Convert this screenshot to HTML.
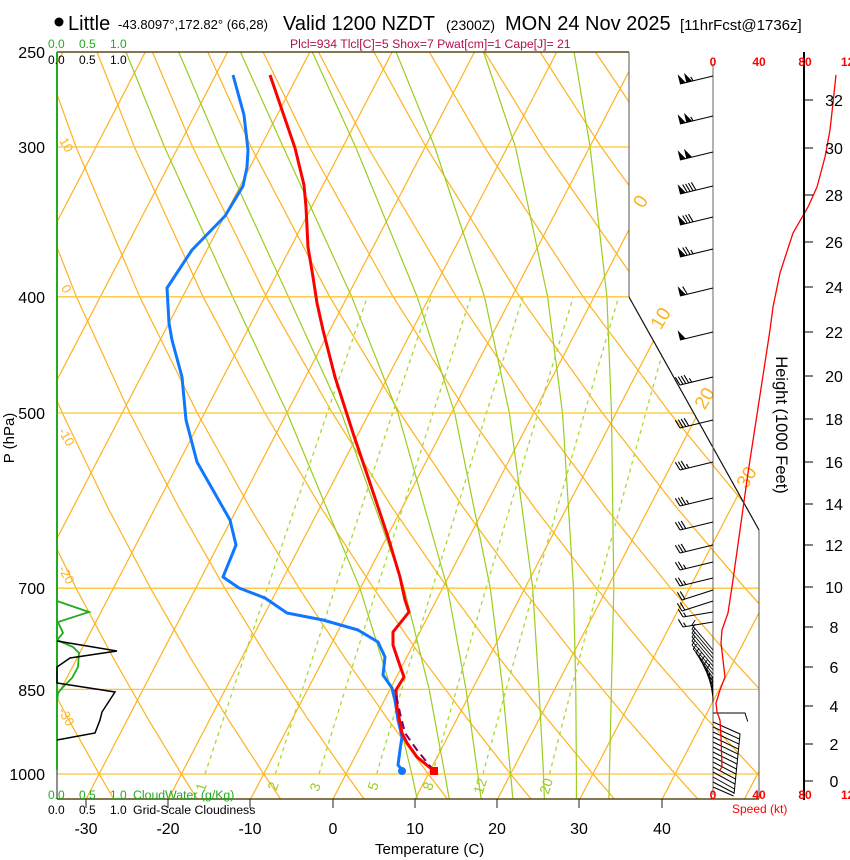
<!DOCTYPE html>
<html><head><meta charset="utf-8"><title>Skew-T Little</title>
<style>
html,body{margin:0;padding:0;background:#fff;width:850px;height:860px;overflow:hidden}
svg{display:block}
text{font-family:"Liberation Sans",Arial,Helvetica,sans-serif}
</style></head><body>
<svg xmlns="http://www.w3.org/2000/svg" width="850" height="860" viewBox="0 0 850 860">
<rect width="850" height="860" fill="#fff"/>
<defs>
<clipPath id="cp"><polygon points="57,52 629,52 629,297 759,530 759,799 57,799"/></clipPath>
<g id="b105" stroke="#000" stroke-width="1.1" fill="#000"><path d="M713,0 L680,8"/><path stroke="none" d="M680,8 L677.6,-1.7 L685.8,6.6Z M686.3,6.5 L684.0,-3.2 L692.2,5.1Z"/><path d="M693.1,4.8 l-2.32,-3.84"/></g>
<g id="b100" stroke="#000" stroke-width="1.1" fill="#000"><path d="M713,0 L680,8"/><path stroke="none" d="M680,8 L677.6,-1.7 L685.8,6.6Z M686.3,6.5 L684.0,-3.2 L692.2,5.1Z"/></g>
<g id="b90" stroke="#000" stroke-width="1.1" fill="#000"><path d="M713,0 L680,8"/><path stroke="none" d="M680,8 L677.6,-1.7 L685.8,6.6Z"/><path fill="none" d="M687.3,6.23 l-4.64,-7.67 M690.2,5.53 l-4.64,-7.67 M693.1,4.82 l-4.64,-7.67 M696.0,4.11 l-4.64,-7.67"/></g>
<g id="b80" stroke="#000" stroke-width="1.1" fill="#000"><path d="M713,0 L680,8"/><path stroke="none" d="M680,8 L677.6,-1.7 L685.8,6.6Z"/><path fill="none" d="M687.3,6.23 l-4.64,-7.67 M690.2,5.53 l-4.64,-7.67 M693.1,4.82 l-4.64,-7.67"/></g>
<g id="b75" stroke="#000" stroke-width="1.1" fill="#000"><path d="M713,0 L680,8"/><path stroke="none" d="M680,8 L677.6,-1.7 L685.8,6.6Z"/><path fill="none" d="M687.3,6.23 l-4.64,-7.67 M690.2,5.53 l-4.64,-7.67 M693.1,4.82 l-2.32,-3.84"/></g>
<g id="b60" stroke="#000" stroke-width="1.1" fill="#000"><path d="M713,0 L680,8"/><path stroke="none" d="M680,8 L677.6,-1.7 L685.8,6.6Z"/><path fill="none" d="M687.3,6.23 l-4.64,-7.67"/></g>
<g id="b50" stroke="#000" stroke-width="1.1" fill="#000"><path d="M713,0 L680,8"/><path stroke="none" d="M680,8 L677.6,-1.7 L685.8,6.6Z"/></g>
<g id="b45" stroke="#000" stroke-width="1.1" fill="none"><path d="M713,0 L680,8 M680,8 l-4.64,-7.67 M682.92,7.29 l-4.64,-7.67 M685.83,6.59 l-4.64,-7.67 M688.75,5.88 l-4.64,-7.67 M691.66,5.17 l-2.32,-3.84"/></g>
<g id="b40" stroke="#000" stroke-width="1.1" fill="none"><path d="M713,0 L680,8 M680,8 l-4.64,-7.67 M682.92,7.29 l-4.64,-7.67 M685.83,6.59 l-4.64,-7.67 M688.75,5.88 l-4.64,-7.67"/></g>
<g id="b35" stroke="#000" stroke-width="1.1" fill="none"><path d="M713,0 L680,8 M680,8 l-4.64,-7.67 M682.92,7.29 l-4.64,-7.67 M685.83,6.59 l-4.64,-7.67 M688.75,5.88 l-2.32,-3.84"/></g>
<g id="b30" stroke="#000" stroke-width="1.1" fill="none"><path d="M713,0 L680,8 M680,8 l-4.64,-7.67 M682.92,7.29 l-4.64,-7.67 M685.83,6.59 l-4.64,-7.67"/></g>
<g id="b25" stroke="#000" stroke-width="1.1" fill="none"><path d="M713,0 L680,8 M680,8 l-4.64,-7.67 M682.92,7.29 l-4.64,-7.67 M685.83,6.59 l-2.32,-3.84"/></g>
<g id="b20" stroke="#000" stroke-width="1.1" fill="none"><path d="M713,0 L682,10 M682,10 l-4.64,-7.67 M684.92,9.1 l-4.64,-7.67"/></g>
<g id="b15" stroke="#000" stroke-width="1.1" fill="none"><path d="M713,0 L683,5 M683,5 l-4.64,-7.67 M685.92,4.5 l-2.32,-3.84"/></g>
</defs>

<g clip-path="url(#cp)" fill="none">
<!-- isotherms -->
<g stroke="#FFB21E" stroke-width="1.2">
<line x1="-325.4" y1="799" x2="63" y2="52"/>
<line x1="-243.1" y1="799" x2="145.3" y2="52"/>
<line x1="-160.8" y1="799" x2="227.6" y2="52"/>
<line x1="-78.5" y1="799" x2="309.9" y2="52"/>
<line x1="3.8" y1="799" x2="392.2" y2="52"/>
<line x1="86.1" y1="799" x2="474.5" y2="52"/>
<line x1="168.4" y1="799" x2="556.8" y2="52"/>
<line x1="250.7" y1="799" x2="639.1" y2="52"/>
<line x1="333" y1="799" x2="721.4" y2="52"/>
<line x1="415.3" y1="799" x2="803.7" y2="52"/>
<line x1="497.6" y1="799" x2="886" y2="52"/>
<line x1="579.9" y1="799" x2="968.3" y2="52"/>
<line x1="662.2" y1="799" x2="1050.6" y2="52"/>
<line x1="744.5" y1="799" x2="1132.9" y2="52"/>
</g>
<!-- dry adiabats -->
<g stroke="#FFB21E" stroke-width="1.2">
<polyline points="114.0,799.4 99.1,774 68.3,719.1 35.9,657.8 1.8,588.2"/>
<polyline points="197.4,799.4 181.4,774 148.1,719.1 113.2,657.8 76.1,588.2 36.8,508 -5.2,413"/>
<polyline points="280.9,799.4 263.7,774 228.0,719.1 190.4,657.8 150.5,588.2 108.0,508 62.3,413 13.0,296.8 -40.6,147"/>
<polyline points="364.4,799.4 346.0,774 307.9,719.1 267.6,657.8 224.8,588.2 179.1,508 129.8,413 76.4,296.8 17.7,147 -13.8,52"/>
<polyline points="447.8,799.4 428.3,774 387.7,719.1 344.8,657.8 299.1,588.2 250.2,508 197.3,413 139.7,296.8 76.1,147 41.6,52"/>
<polyline points="531.3,799.4 510.6,774 467.6,719.1 422.0,657.8 373.5,588.2 321.3,508 264.9,413 203.1,296.8 134.4,147 97.0,52"/>
<polyline points="614.7,799.4 592.9,774 547.4,719.1 499.2,657.8 447.8,588.2 392.5,508 332.4,413 266.4,296.8 192.7,147 152.4,52"/>
<polyline points="698.2,799.4 675.2,774 627.3,719.1 576.5,657.8 522.1,588.2 463.6,508 399.9,413 329.7,296.8 251.1,147 207.8,52"/>
<polyline points="781.6,799.4 757.5,774 707.2,719.1 653.7,657.8 596.4,588.2 534.7,508 467.4,413 393.1,296.8 309.4,147 263.1,52"/>
<polyline points="865.1,799.4 839.8,774 787.0,719.1 730.9,657.8 670.8,588.2 605.8,508 534.9,413 456.4,296.8 367.8,147 318.5,52"/>
<polyline points="922.1,774 866.9,719.1 808.1,657.8 745.1,588.2 677.0,508 602.4,413 519.8,296.8 426.1,147 373.9,52"/>
<polyline points="885.3,657.8 819.4,588.2 748.1,508 670.0,413 583.1,296.8 484.5,147 429.3,52"/>
<polyline points="893.7,588.2 819.2,508 737.5,413 646.5,296.8 542.8,147 484.7,52"/>
<polyline points="890.3,508 805.0,413 709.8,296.8 601.2,147 540.1,52"/>
<polyline points="872.5,413 773.2,296.8 659.5,147 595.4,52"/>
</g>
<!-- moist adiabats -->
<g stroke="#9ACD1E" stroke-width="1.2">
<polyline points="417.3,799.4 411.8,774 391.2,689.4 359.9,588.2 287.2,413 232.6,296.8 164.5,147 126.0,52"/>
<polyline points="449.3,799.4 444.8,774 429.2,689.4 404.1,588.2 341.5,413 288.4,296.8 219.4,147 178.7,52"/>
<polyline points="481.2,799.4 477.7,774 466.0,689.4 447.5,588.2 397.9,413 351.7,296.8 283.2,147 240.4,52"/>
<polyline points="512.9,799.4 510.6,774 502.8,689.4 490.3,588.2 454.7,413 417.2,296.8 355.6,147 312.3,52"/>
<polyline points="544.4,799.4 543.5,774 539.0,689.4 532.7,588.2 509.4,413 484.5,296.8 434.7,147 396.1,52"/>
<polyline points="576.4,799.4 576.4,774 575.8,689.4 573.5,588.2 562.5,413 547.6,296.8 515.5,147 483.6,52"/>
<polyline points="608.9,799.4 609.4,774 611.4,689.4 613.8,588.2 611.5,413 606.9,296.8 590.1,147 574.1,52"/>
</g>
<!-- mixing ratio -->
<g stroke="#A8D830" stroke-width="1.3" stroke-dasharray="4,4">
<polyline points="205.0,774 233.2,689.4 267.3,588.2 327.2,413 367.4,296.8"/>
<polyline points="275.4,774 302.4,689.4 335.0,588.2 392.6,413 431.4,296.8"/>
<polyline points="319.0,774 345.2,689.4 377.0,588.2 433.0,413 470.9,296.8"/>
<polyline points="376.6,774 401.8,689.4 432.4,588.2 486.4,413 523.0,296.8"/>
<polyline points="432.5,774 456.6,689.4 486.0,588.2 538.0,413 573.3,296.8"/>
<polyline points="483.0,774 506.1,689.4 534.4,588.2 584.5,413 618.7,296.8"/>
<polyline points="549.5,774 571.3,689.4 598.0,588.2 645.7,413 678.3,296.8"/>
</g>
<!-- pressure lines -->
<g stroke="#FFC535" stroke-width="1.3">
<line x1="57" y1="774" x2="760" y2="774"/>
<line x1="57" y1="689.4" x2="760" y2="689.4"/>
<line x1="57" y1="588.2" x2="760" y2="588.2"/>
<line x1="57" y1="413" x2="760" y2="413"/>
<line x1="57" y1="296.8" x2="760" y2="296.8"/>
<line x1="57" y1="147" x2="760" y2="147"/>
</g>
</g>

<!-- frame -->
<line x1="629" y1="52" x2="629" y2="297" stroke="#555" stroke-width="1"/>
<line x1="629" y1="297" x2="759" y2="530" stroke="#111" stroke-width="1.2"/>
<line x1="759" y1="530" x2="759" y2="799" stroke="#555" stroke-width="1"/>
<line x1="57" y1="52" x2="629" y2="52" stroke="#5a4818" stroke-width="1.4"/>
<line x1="57" y1="799" x2="759" y2="799" stroke="#5a4818" stroke-width="1.4"/>
<line x1="57" y1="52" x2="57" y2="799" stroke="#222" stroke-width="1"/>
<line x1="57" y1="52" x2="57" y2="770" stroke="#22aa22" stroke-width="2"/>

<!-- bottom ticks -->
<g stroke="#222" stroke-width="1">
<line x1="86" y1="799" x2="86" y2="808"/><line x1="168" y1="799" x2="168" y2="808"/>
<line x1="250" y1="799" x2="250" y2="808"/><line x1="333" y1="799" x2="333" y2="808"/>
<line x1="415" y1="799" x2="415" y2="808"/><line x1="497" y1="799" x2="497" y2="808"/>
<line x1="579" y1="799" x2="579" y2="808"/><line x1="662" y1="799" x2="662" y2="808"/>
</g>

<!-- cloud profiles -->
<polyline points="57,601 89,612 58,622 63,633 57,640 73,647 79,653 78,667 72,678 63,687 58,693 57,703" fill="none" stroke="#22aa22" stroke-width="1.8"/>
<polyline points="57,641 117,651 70,658 57,667 57,683 115,692 102,712 100,720 95,733 57,740" fill="none" stroke="#000" stroke-width="1.5"/>

<!-- grid labels: dry adiabats (left) -->
<g fill="#FFB21E" font-size="13" text-anchor="middle">
<text transform="translate(66,145) rotate(60)" dy="4">10</text>
<text transform="translate(66,289) rotate(60)" dy="4">0</text>
<text transform="translate(66,437) rotate(60)" dy="4">-10</text>
<text transform="translate(66,575) rotate(60)" dy="4">-20</text>
<text transform="translate(66,717) rotate(60)" dy="4">-30</text>
</g>
<!-- isotherm labels (right) -->
<g fill="#FFB21E" font-size="19" text-anchor="middle">
<text transform="translate(640,201) rotate(-60)" dy="7">0</text>
<text transform="translate(660,318) rotate(-60)" dy="7">10</text>
<text transform="translate(704,398) rotate(-60)" dy="7">20</text>
<text transform="translate(746,477) rotate(-60)" dy="7">30</text>
</g>
<!-- mixing ratio labels -->
<g fill="#9ACD1E" font-size="14" text-anchor="middle">
<text transform="translate(201,787) rotate(-72)" dy="5">1</text>
<text transform="translate(273,786) rotate(-72)" dy="5">2</text>
<text transform="translate(315,787) rotate(-72)" dy="5">3</text>
<text transform="translate(373,786) rotate(-72)" dy="5">5</text>
<text transform="translate(428,786) rotate(-72)" dy="5">8</text>
<text transform="translate(480,786) rotate(-72)" dy="5">12</text>
<text transform="translate(546,786) rotate(-72)" dy="5">20</text>
</g>

<!-- sounding -->
<polyline points="233,75 244,115 248,150 247,167 243,186 225,216 192,250 167,288 169,323 172,340 182,377 186,420 197,462 230,520 236,545 223,577 239,588 265,598 287,613 323,620 358,630 378,642 385,657 383,675 392,688 395,700 398,720 402,737 400,750 398,765 403,771" fill="none" stroke="#1177ff" stroke-width="3" stroke-linejoin="round"/>
<polyline points="270,75 283,113 295,148 304,185 306,207 308,247 313,277 317,303 323,330 335,377 353,433 370,483 388,537 400,577 405,600 409,612 393,632 393,645 398,660 404,677 396,690 397,707 402,733 407,743 417,757 434,771" fill="none" stroke="#ff0000" stroke-width="3" stroke-linejoin="round"/>
<polyline points="434,771 417,750 405,733 400,713 395,690" fill="none" stroke="#800060" stroke-width="2" stroke-dasharray="8,5"/>
<rect x="430" y="767" width="8" height="8" fill="#ff0000"/>
<circle cx="402" cy="771" r="4" fill="#1177ff"/>

<!-- wind axis & barbs -->
<line x1="713" y1="64" x2="713" y2="795" stroke="#666" stroke-width="1"/>
<use href="#b105" transform="translate(0,76)"/>
<use href="#b105" transform="translate(0,116)"/>
<use href="#b100" transform="translate(0,152)"/>
<use href="#b90" transform="translate(0,186)"/>
<use href="#b80" transform="translate(0,217)"/>
<use href="#b75" transform="translate(0,249)"/>
<use href="#b60" transform="translate(0,288)"/>
<use href="#b50" transform="translate(0,332)"/>
<use href="#b45" transform="translate(0,377)"/>
<use href="#b40" transform="translate(0,420)"/>
<use href="#b35" transform="translate(0,462)"/>
<use href="#b35" transform="translate(0,498)"/>
<use href="#b30" transform="translate(0,522)"/>
<use href="#b30" transform="translate(0,545)"/>
<use href="#b25" transform="translate(0,562)"/>
<use href="#b25" transform="translate(0,578)"/>
<use href="#b20" transform="translate(0,590)"/>
<use href="#b20" transform="translate(0,601)"/>
<use href="#b15" transform="translate(0,612)"/>
<use href="#b15" transform="translate(0,622)"/>
<g stroke="#000" stroke-width="0.9" fill="none">
<path d="M713,650 L692,625 l3.2,-5 M713,654 L692,629 l3.2,-5 M713,658 L692,633 l3.2,-5 M713,662 L692,637 l3.2,-5 M713,666 L692,641 l3.2,-5 M713,670 L692,645 l3.2,-5 M713,674 L693.3,649 l3.2,-5 M713,678 L696,653 l3.2,-5 M713,682 L698.7,657 l3.2,-5 M713,686 L701.3,661 l3.2,-5 M713,690 L704,665 l3.2,-5 M713,694 L706.7,669 l3.2,-5 M713,698 L709.3,673 M713,702 L712,677"/>
</g>
<g stroke="#000" stroke-width="1" fill="none">
<path d="M713,713 L745,713 l2.7,8.5"/>
<path d="M713,722 L740,734 l-0.5,6 M713,727 L739.5,739 l-0.5,6 M713,732 L739,744 l-0.5,6 M713,737 L738.5,749 l-0.5,6 M713,742 L738,754 l-0.5,6 M713,747 L737.5,759 l-0.5,6 M713,752 L737,764 l-0.5,6 M713,757 L736.5,769 l-0.5,6 M713,762 L736,774 l-0.5,6 M713,767 L735.5,779 l-0.5,6 M713,772 L735,784 l-0.5,6 M713,777 L734.5,789 l-0.5,5 M713,782 L734,793 M713,787 L733.5,796"/>
</g>
<polyline points="836,75 833,103 830,130 825,157 817,187 808,207 793,233 780,273 773,307 770,330 748,473 733,580 728,613 722,630 721,643 723,660 725,677 720,690 716,703 717,712 720,720 721,737 722,767 720,770" fill="none" stroke="#ff0000" stroke-width="1.3"/>

<!-- height axis -->
<line x1="804" y1="52" x2="804" y2="800" stroke="#000" stroke-width="2"/>
<g stroke="#000" stroke-width="1">
<line x1="804" y1="781" x2="813" y2="781"/><line x1="804" y1="744" x2="813" y2="744"/>
<line x1="804" y1="706" x2="813" y2="706"/><line x1="804" y1="667" x2="813" y2="667"/>
<line x1="804" y1="627" x2="813" y2="627"/><line x1="804" y1="587" x2="813" y2="587"/>
<line x1="804" y1="545" x2="813" y2="545"/><line x1="804" y1="504" x2="813" y2="504"/>
<line x1="804" y1="462" x2="813" y2="462"/><line x1="804" y1="419" x2="813" y2="419"/>
<line x1="804" y1="376" x2="813" y2="376"/><line x1="804" y1="332" x2="813" y2="332"/>
<line x1="804" y1="287" x2="813" y2="287"/><line x1="804" y1="242" x2="813" y2="242"/>
<line x1="804" y1="195" x2="813" y2="195"/><line x1="804" y1="148" x2="813" y2="148"/>
<line x1="804" y1="100" x2="813" y2="100"/>
</g>
<g font-size="16" text-anchor="middle" fill="#000">
<text x="834" y="787">0</text><text x="834" y="750">2</text><text x="834" y="712">4</text>
<text x="834" y="673">6</text><text x="834" y="633">8</text><text x="834" y="593">10</text>
<text x="834" y="551">12</text><text x="834" y="510">14</text><text x="834" y="468">16</text>
<text x="834" y="425">18</text><text x="834" y="382">20</text><text x="834" y="338">22</text>
<text x="834" y="293">24</text><text x="834" y="248">26</text><text x="834" y="201">28</text>
<text x="834" y="154">30</text><text x="834" y="106">32</text>
</g>
<text transform="translate(782,425) rotate(90)" text-anchor="middle" dy="6" font-size="16.5">Height (1000 Feet)</text>

<!-- speed labels -->
<g font-size="12" font-weight="bold" fill="#ff0000" text-anchor="middle">
<text x="713" y="66">0</text><text x="759" y="66">40</text><text x="805" y="66">80</text><text x="851" y="66">120</text>
<text x="713" y="799">0</text><text x="759" y="799">40</text><text x="805" y="799">80</text><text x="851" y="799">120</text>
</g>
<text x="732" y="813" font-size="12" fill="#ff0000">Speed (kt)</text>

<!-- pressure labels -->
<g font-size="16" text-anchor="end" fill="#000">
<text x="45" y="58">250</text><text x="45" y="153">300</text><text x="45" y="303">400</text>
<text x="45" y="419">500</text><text x="45" y="594">700</text><text x="45" y="696">850</text>
<text x="45" y="780">1000</text>
</g>
<text transform="translate(9,438) rotate(-90)" text-anchor="middle" dy="5" font-size="15">P (hPa)</text>

<!-- temperature labels -->
<g font-size="16" text-anchor="middle" fill="#000">
<text x="86" y="834">-30</text><text x="168" y="834">-20</text><text x="250" y="834">-10</text>
<text x="333" y="834">0</text><text x="415" y="834">10</text><text x="497" y="834">20</text>
<text x="579" y="834">30</text><text x="662" y="834">40</text>
</g>
<text x="375" y="854" font-size="15">Temperature (C)</text>

<!-- cloud scale labels -->
<g font-size="12" fill="#22aa22">
<text x="48" y="48">0.0</text><text x="79" y="48">0.5</text><text x="110" y="48">1.0</text>
<text x="48" y="799">0.0</text><text x="79" y="799">0.5</text><text x="110" y="799">1.0</text>
<text x="133" y="799" font-size="12.3">CloudWater (g/Kg)</text>
</g>
<g font-size="12" fill="#000">
<text x="48" y="64">0.0</text><text x="79" y="64">0.5</text><text x="110" y="64">1.0</text>
<text x="48" y="814">0.0</text><text x="79" y="814">0.5</text><text x="110" y="814">1.0</text>
<text x="133" y="814" font-size="12.3">Grid-Scale Cloudiness</text>
</g>

<!-- title -->
<circle cx="59" cy="22" r="4.5" fill="#000"/>
<text x="68" y="30" font-size="20">Little</text>
<text x="118" y="29" font-size="13">-43.8097°,172.82° (66,28)</text>
<text x="283" y="30" font-size="20">Valid 1200 NZDT</text>
<text x="446" y="30" font-size="14">(2300Z)</text>
<text x="505" y="30" font-size="20">MON 24 Nov 2025</text>
<text x="680" y="30" font-size="15">[11hrFcst@1736z]</text>
<text x="290" y="48" font-size="12.2" fill="#b0104e">Plcl=934 Tlcl[C]=5 Shox=7 Pwat[cm]=1 Cape[J]= 21</text>
</svg>
</body></html>
